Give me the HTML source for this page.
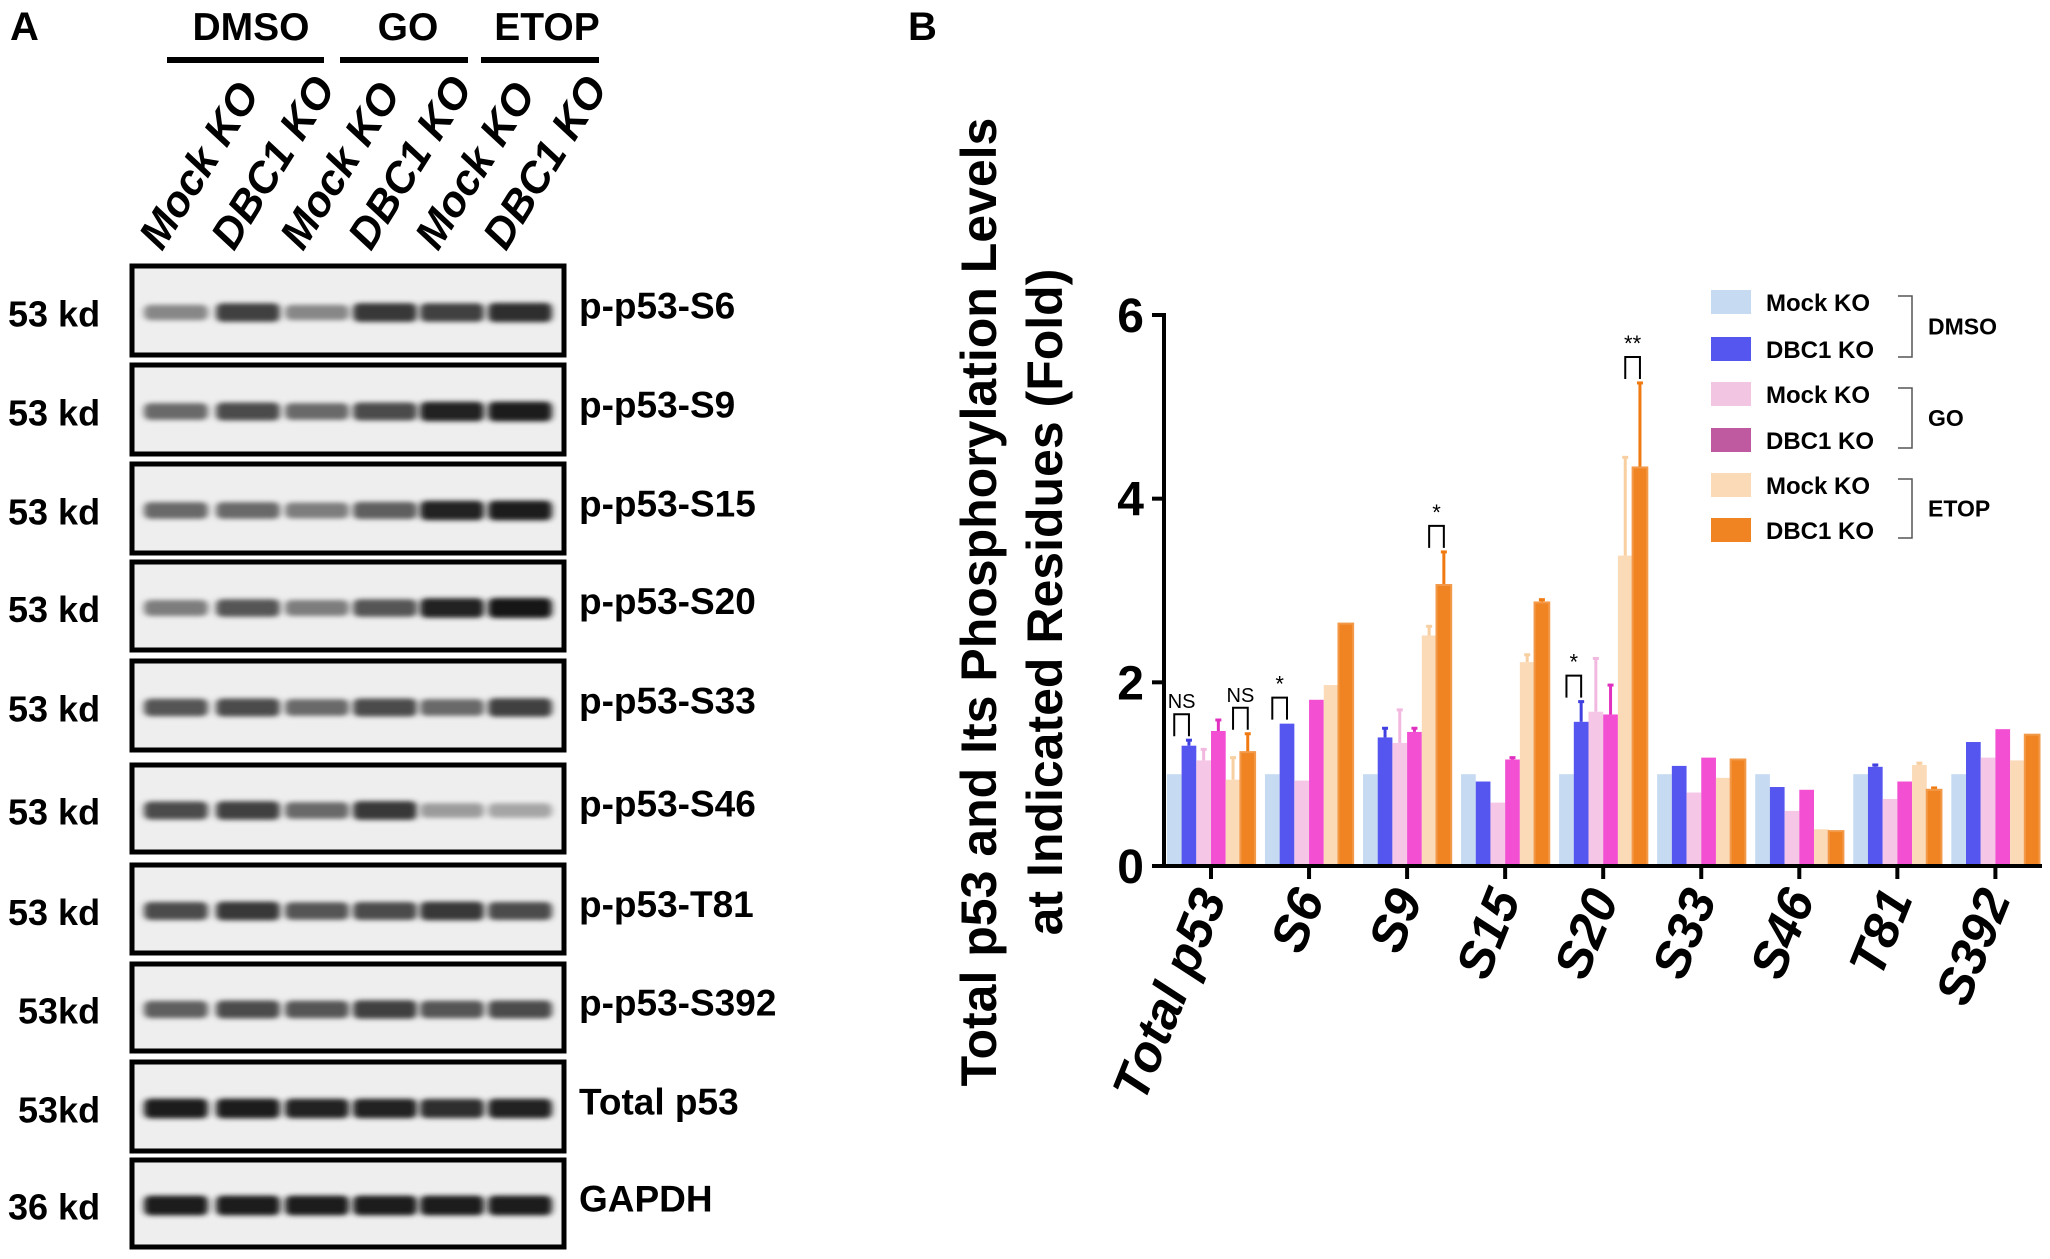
<!DOCTYPE html>
<html><head><meta charset="utf-8">
<style>
html,body{margin:0;padding:0;background:#fff;}
svg{display:block;font-family:"Liberation Sans",sans-serif;}
</style></head>
<body>
<svg id="fig" width="2050" height="1259" viewBox="0 0 2050 1259" xmlns="http://www.w3.org/2000/svg">
<defs>
<filter id="blur" x="-20%" y="-100%" width="140%" height="300%"><feGaussianBlur stdDeviation="3.5 2.5"/></filter>
</defs>
<!-- Panel A -->
<text x="10" y="40" font-size="40" font-weight="bold">A</text>
<text x="251" y="40" font-size="39" font-weight="bold" text-anchor="middle">DMSO</text>
<text x="408" y="40" font-size="39" font-weight="bold" text-anchor="middle">GO</text>
<text x="547" y="40" font-size="39" font-weight="bold" text-anchor="middle">ETOP</text>
<rect x="167" y="57" width="157" height="6" fill="#000"/>
<rect x="340" y="57" width="128" height="6" fill="#000"/>
<rect x="481" y="57" width="118" height="6" fill="#000"/>
<g id="lanes"></g>
<g id="blots"></g>
<!-- Panel B -->
<text x="908" y="40" font-size="40" font-weight="bold">B</text>
<g id="chart"></g>
</svg>
<script>
const NS='http://www.w3.org/2000/svg';
function mk(tag,attrs,parent){const e=document.createElementNS(NS,tag);for(const k in attrs)e.setAttribute(k,attrs[k]);parent.appendChild(e);return e;}

// ---- Blot data ----
const laneNames=['Mock KO','DBC1 KO','Mock KO','DBC1 KO','Mock KO','DBC1 KO'];
const blotLabels=['p-p53-S6','p-p53-S9','p-p53-S15','p-p53-S20','p-p53-S33','p-p53-S46','p-p53-T81','p-p53-S392','Total p53','GAPDH'];
const markerLabels=['53 kd','53 kd','53 kd','53 kd','53 kd','53 kd','53 kd','53kd','53kd','36 kd'];
const bandIntensity=[
[0.45,0.8,0.45,0.85,0.8,0.9],
[0.6,0.75,0.6,0.75,0.95,0.98],
[0.6,0.6,0.5,0.65,0.95,0.98],
[0.5,0.7,0.5,0.7,0.95,1.0],
[0.7,0.75,0.6,0.75,0.6,0.8],
[0.75,0.8,0.6,0.85,0.35,0.3],
[0.75,0.85,0.7,0.75,0.85,0.75],
[0.65,0.75,0.7,0.8,0.7,0.75],
[0.98,0.98,0.95,0.95,0.9,0.95],
[0.98,0.98,0.98,0.98,0.98,0.98]];

const laneX=[176,248,317,385,452,520];
const lanesG=document.getElementById('lanes');
laneNames.forEach((n,i)=>{
  const t=mk('text',{x:laneX[i]-14,y:252,'font-size':43,'font-weight':'bold','font-style':'italic',transform:`rotate(-58 ${laneX[i]-14} 252)`},lanesG);
  t.textContent=n;
  
  
});

const boxTop=[266,365,464,562,661,765,865,964,1062,1160];
const boxH=[89,89,89,88,89,87,88,87,89,87];
const blotsG=document.getElementById('blots');
blotLabels.forEach((lab,r)=>{
  const g=mk('g',{},blotsG);
  
  
  const bx=mk('rect',{x:132,y:boxTop[r],width:432,height:boxH[r],fill:'#eeeeee',stroke:'#000','stroke-width':5},g);
  
  
  const cy=boxTop[r]+boxH[r]/2+3;
  bandIntensity[r].forEach((v,i)=>{
    const c=Math.round(225-200*v);
    const b=mk('rect',{x:laneX[i]-32,y:cy-7-4*v,width:64,height:12+8*v,rx:6,fill:`rgb(${c},${c},${c})`,filter:'url(#blur)'},g);
    
    
  });
  const ml=mk('text',{x:markerLabels[r].indexOf(' ')<0?18:8,y:cy+13,'font-size':36,'font-weight':'bold'},g);
  ml.textContent=markerLabels[r];
  
  
  const rl=mk('text',{x:579,y:cy+5,'font-size':37,'font-weight':'bold'},g);
  rl.textContent=lab;
  
  
});

// ---- Chart data ----
const categories=['Total p53','S6','S9','S15','S20','S33','S46','T81','S392'];
const seriesNames=['DMSO Mock KO','DMSO DBC1 KO','GO Mock KO','GO DBC1 KO','ETOP Mock KO','ETOP DBC1 KO'];
const dmsoMock=[1.0,1.0,1.0,1.0,1.0,1.0,1.0,1.0,1.0];
const dmsoDbc1=[1.31,1.55,1.40,0.92,1.57,1.09,0.86,1.08,1.35];
const goMock=[1.15,0.93,1.34,0.69,1.68,0.80,0.60,0.73,1.18];
const goDbc1=[1.47,1.81,1.46,1.16,1.65,1.18,0.83,0.92,1.49];
const etopMock=[0.94,1.97,2.51,2.22,3.38,0.96,0.40,1.10,1.15];
const etopDbc1=[1.24,2.64,3.06,2.87,4.34,1.16,0.38,0.83,1.43];
const errDmsoDbc1=[0.06,0,0.10,0,0.22,0,0,0.02,0];
const errGoMock=[0.12,0,0.36,0,0.58,0,0,0,0];
const errGoDbc1=[0.12,0,0.04,0.02,0.32,0,0,0,0];
const errEtopMock=[0.24,0,0.10,0.08,1.07,0,0,0.02,0];
const errEtopDbc1=[0.20,0,0.36,0.03,0.92,0,0,0.02,0];
const yTicks=[0,2,4,6];
const sigLabels=[['NS',0,1],['NS',0,5],['*',1,1],['*',2,5],['*',4,1],['**',4,5]];

const series=[dmsoMock,dmsoDbc1,goMock,goDbc1,etopMock,etopDbc1];
const errs=[null,errDmsoDbc1,errGoMock,errGoDbc1,errEtopMock,errEtopDbc1];
const colors=['#c6dbf2','#5555f0','#f5c6e6','#f24fd2','#fbdab7','#f08422'];
const errColors=['#c6dbf2','#4040e0','#f2b8e0','#e030c0','#f8cfa0','#f07a10'];
const Y0=866,Y6=315,X0=1164,groupStep=98.05,firstCenter=1211,barW=14.7;
const yS=v=>Y0-(v/6)*(Y0-Y6);
const gx=i=>firstCenter+groupStep*i;
const bx=(i,s)=>gx(i)-3*barW+s*barW;
const ch=document.getElementById('chart');

series.forEach((arr,s)=>{
  arr.forEach((v,i)=>{
    const x=bx(i,s);
    if(errs[s]&&errs[s][i]>0){
      const l=mk('line',{x1:x+barW/2,x2:x+barW/2,y1:yS(v),y2:yS(v+errs[s][i]),stroke:errColors[s],'stroke-width':3},ch);
      
      
      const cap=mk('line',{x1:x+barW/2-3,x2:x+barW/2+3,y1:yS(v+errs[s][i]),y2:yS(v+errs[s][i]),stroke:errColors[s],'stroke-width':3},ch);
      
      
    }
    const r=mk('rect',{x:x,y:yS(v),width:barW,height:Y0-yS(v),fill:colors[s]},ch);
    if(s===5){r.setAttribute('stroke','#f29a4a');r.setAttribute('stroke-width','2');}
    
    
  });
});

// axes
const ya=mk('line',{x1:X0,x2:X0,y1:Y6-2,y2:Y0+2,stroke:'#000','stroke-width':4},ch);


const xa=mk('line',{x1:X0-2,x2:2042,y1:Y0,y2:Y0,stroke:'#000','stroke-width':4},ch);


yTicks.forEach(t=>{
  const tl=mk('line',{x1:X0-12,x2:X0,y1:yS(t),y2:yS(t),stroke:'#000','stroke-width':4},ch);
  
  
  const tx=mk('text',{x:X0-20,y:yS(t)+17,'font-size':48,'font-weight':'bold','text-anchor':'end'},ch);
  tx.textContent=t;
  
  
});
categories.forEach((c,i)=>{
  const tl=mk('line',{x1:gx(i),x2:gx(i),y1:Y0,y2:Y0+13,stroke:'#000','stroke-width':4},ch);
  
  
  const ax=gx(i)+16, ay=Y0+32;
  const tx=mk('text',{x:ax,y:ay,'font-size':51,'font-weight':'bold','font-style':'italic','text-anchor':'end',transform:`rotate(-68 ${ax} ${ay})`},ch);
  tx.textContent=c;
  
  
});
// y title
const yt=mk('text',{x:0,y:0,'font-size':50,'font-weight':'bold','text-anchor':'middle',transform:'translate(996 602) rotate(-90)'},ch);
yt.textContent='Total p53 and Its Phosphorylation Levels';


const yt2=mk('text',{x:0,y:0,'font-size':50,'font-weight':'bold','text-anchor':'middle',transform:'translate(1062 602) rotate(-90)'},ch);
yt2.textContent='at Indicated Residues (Fold)';



// significance brackets
sigLabels.forEach(([lab,i,s])=>{
  const x1=bx(i,s-1)+barW/2, x2=bx(i,s)+barW/2;
  const top=Math.max(series[s-1][i]+(errs[s-1]?errs[s-1][i]:0),series[s][i]+(errs[s]?errs[s][i]:0));
  const yb=yS(top)-12, yt0=yb-14;
  const p=mk('path',{d:`M${x1} ${yb+8}V${yt0}H${x2}V${yb+8}`,fill:'none',stroke:'#000','stroke-width':2},ch);
  
  
  const t=mk('text',{x:(x1+x2)/2,y:yt0-6,'font-size':lab==='NS'?20:22,'text-anchor':'middle'},ch);
  t.textContent=lab;
  
  
});

// legend
const legY=[302,349,394,440,485,530];
const legColors=['#c6dbf2','#5555f0','#f2c6e2','#c05aa0','#fbdab7','#f08422'];
const legText=['Mock KO','DBC1 KO','Mock KO','DBC1 KO','Mock KO','DBC1 KO'];
legY.forEach((y,k)=>{
  const r=mk('rect',{x:1711,y:y-12,width:40,height:24,fill:legColors[k]},ch);
  
  
  const t=mk('text',{x:1766,y:y+9,'font-size':24,'font-weight':'bold'},ch);
  t.textContent=legText[k];
  
  
});
const grp=['DMSO','GO','ETOP'];
grp.forEach((g,k)=>{
  const y1=legY[2*k]-6,y2=legY[2*k+1]+8;
  const p=mk('path',{d:`M1898 ${y1}H1912V${y2}H1898`,fill:'none',stroke:'#555','stroke-width':1.5},ch);
  
  
  const t=mk('text',{x:1928,y:(y1+y2)/2+8,'font-size':23,'font-weight':'bold'},ch);
  t.textContent=g;
  
  
});
</script>
</body></html>
